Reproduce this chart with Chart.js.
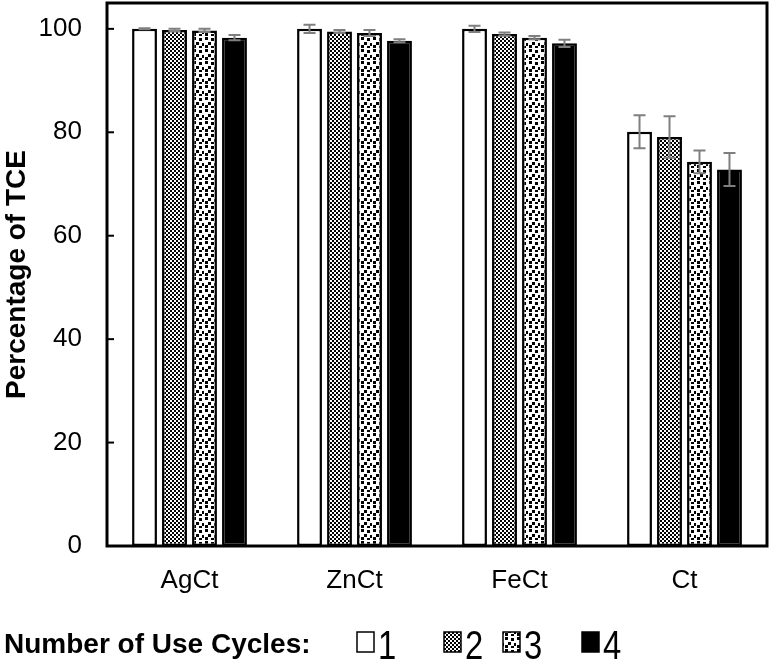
<!DOCTYPE html>
<html>
<head>
<meta charset="utf-8">
<script src="https://cdn.jsdelivr.net/npm/chart.js@4/dist/chart.umd.min.js"></script>
<style>
  html, body { margin: 0; padding: 0; background: #fff; }
  #wrap { width: 773px; height: 669px; position: relative; }
</style>
</head>
<body>
<div id="wrap"><canvas id="tceChart"></canvas></div>
<script>
const categories = ["AgCt", "ZnCt", "FeCt", "Ct"];
const cycleLabels = ["1", "2", "3", "4"];
const cycle1 = [100, 100, 100, 80.1];
const cycle2 = [99.8, 99.5, 99.0, 79.1];
const cycle3 = [99.7, 99.2, 98.3, 74.3];
const cycle4 = [98.3, 97.7, 97.2, 72.8];
const err1 = [0.1, 0.8, 0.6, 3.2];
const err2 = [0.2, 0.3, 0.3, 4.0];
const err3 = [0.3, 0.6, 0.3, 2.2];
const err4 = [0.5, 0.3, 0.7, 3.2];
const yTicks = [0, 20, 40, 60, 80, 100];

// fill patterns
function checkerPattern() {
  const c = document.createElement("canvas");
  c.width = 4; c.height = 4;
  const x = c.getContext("2d");
  x.fillStyle = "#fff"; x.fillRect(0, 0, 4, 4);
  x.fillStyle = "#000";
  x.fillRect(0, 0, 2, 2);
  x.fillRect(2, 2, 2, 2);
  return x.createPattern(c, "repeat");
}
function dotsPattern() {
  const c = document.createElement("canvas");
  c.width = 12; c.height = 12;
  const x = c.getContext("2d");
  x.fillStyle = "#fff"; x.fillRect(0, 0, 12, 12);
  x.fillStyle = "#000";
  [[1, 1], [7, 2], [4, 6], [10, 7], [1, 9], [7, 10]].forEach(([a, b]) => x.fillRect(a, b, 3, 3));
  return x.createPattern(c, "repeat");
}
const fills = ["#ffffff", checkerPattern(), dotsPattern(), "#000000"];
const errs = [err1, err2, err3, err4];

const errorBars = {
  id: "errorBars",
  afterDatasetsDraw(chart) {
    const ctx = chart.ctx;
    const y = chart.scales.y;
    ctx.save();
    ctx.strokeStyle = "#7f7f7f";
    ctx.lineWidth = 2;
    chart.data.datasets.forEach((ds, i) => {
      chart.getDatasetMeta(i).data.forEach((bar, j) => {
        const v = ds.data[j], e = errs[i][j];
        const top = y.getPixelForValue(v + e);
        const bot = y.getPixelForValue(v - e);
        ctx.beginPath();
        ctx.moveTo(bar.x, top); ctx.lineTo(bar.x, bot);
        ctx.moveTo(bar.x - 6, top); ctx.lineTo(bar.x + 6, top);
        ctx.moveTo(bar.x - 6, bot); ctx.lineTo(bar.x + 6, bot);
        ctx.stroke();
      });
    });
    ctx.restore();
  },
  afterDraw(chart) {
    const ctx = chart.ctx;
    const a = chart.chartArea;
    const y = chart.scales.y;
    ctx.save();
    // frame
    ctx.strokeStyle = "#000";
    ctx.lineWidth = 3;
    ctx.strokeRect(a.left, a.top, a.right - a.left, a.bottom - a.top);
    // inward ticks
    ctx.lineWidth = 2;
    yTicks.forEach(v => {
      const py = y.getPixelForValue(v);
      ctx.beginPath(); ctx.moveTo(a.left, py); ctx.lineTo(a.left + 7, py); ctx.stroke();
    });
    // legend
    ctx.fillStyle = "#000";
    ctx.textBaseline = "alphabetic";
    ctx.font = "bold 28px 'Liberation Sans', Arial, sans-serif";
    ctx.fillText("Number of Use Cycles:", 4, 653);
    const boxX = [357, 444, 503, 582];
    cycleLabels.forEach((lab, i) => {
      ctx.fillStyle = fills[i];
      ctx.fillRect(boxX[i], 632, 17, 20);
      ctx.strokeStyle = "#000";
      ctx.lineWidth = 1.5;
      ctx.strokeRect(boxX[i], 632, 17, 20);
      ctx.save();
      ctx.translate(boxX[i] + 21, 659);
      ctx.scale(0.82, 1);
      ctx.fillStyle = "#000";
      ctx.font = "40px 'Liberation Sans', Arial, sans-serif";
      ctx.fillText(lab, 0, 0);
      ctx.restore();
    });
    ctx.restore();
  }
};

const seriesValues = [cycle1, cycle2, cycle3, cycle4];
new Chart(document.getElementById("tceChart"), {
  type: "bar",
  data: {
    labels: categories,
    datasets: seriesValues.map((vals, i) => ({
      label: cycleLabels[i],
      data: vals,
      backgroundColor: fills[i],
      borderColor: "#000",
      borderWidth: 2.5,
      borderSkipped: false,
      categoryPercentage: 0.727,
      barPercentage: 0.83,
    })),
  },
  options: {
    responsive: true,
    maintainAspectRatio: false,
    animation: false,
    layout: { padding: { top: 3, right: 6, left: 0, bottom: 0 } },
    plugins: { legend: { display: false }, tooltip: { enabled: false } },
    scales: {
      x: {
        grid: { display: false, drawTicks: false },
        border: { display: false },
        ticks: { color: "#000", padding: 19, font: { family: "'Liberation Sans', Arial", size: 26 } },
        afterFit(s) { s.height = 123; s.paddingLeft = 0; s.paddingRight = 0; },
      },
      y: {
        min: 0,
        max: 105,
        grid: { display: false, drawTicks: false },
        border: { display: false },
        afterBuildTicks(s) { s.ticks = yTicks.map(v => ({ value: v })); },
        ticks: { color: "#000", padding: 25, font: { family: "'Liberation Sans', Arial", size: 26 } },
        title: {
          display: true,
          text: "Percentage of TCE",
          color: "#000",
          padding: { top: 0, bottom: 0 },
          font: { family: "'Liberation Sans', Arial", size: 28, weight: "bold" },
        },
        afterFit(s) { s.width = 107; s.paddingTop = 0; s.paddingBottom = 0; },
      },
    },
  },
  plugins: [errorBars],
});
</script>
</body>
</html>
